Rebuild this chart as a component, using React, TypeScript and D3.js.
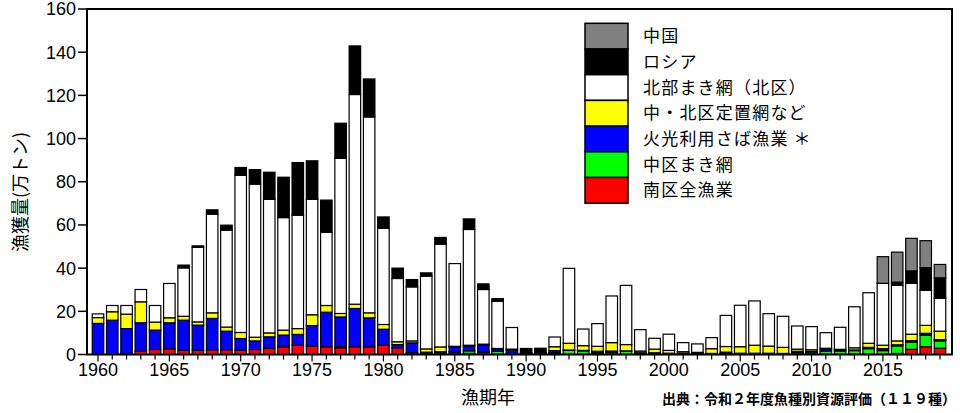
import React from 'react';
import * as d3 from 'd3';

// 漁期年 1960-2019
const years = d3.range(1960, 2020);

// 万トン, one value per year
const nanku = [0.3, 0.3, 0.5, 1.5, 2.3, 2.6, 2.0, 2.0, 2.2, 2.2, 2.0, 2.3, 2.8, 3.5, 4.3, 3.9, 3.5, 3.1, 3.5, 3.5, 4.3, 3.1, 0.8, 0.8, 0.8, 0.3, 0.5, 1.0, 0.3, 0.2, 0.3, 0.3, 0.4, 0.3, 0.3, 0.5, 1.0, 0.2, 0.3, 0.3, 0.2, 0.2, 0.2, 0.2, 0.3, 0.2, 0.2, 0.2, 0.2, 0.3, 0.3, 0.3, 0.3, 0.3, 0.3, 0.3, 0.5, 2.4, 3.6, 2.9];
const chukuMaki = [0, 0, 0, 0, 0, 0, 0, 0, 0, 0, 0, 0, 0, 0, 0, 0, 0, 0.5, 0, 0, 0, 0, 0, 0, 0, 0.8, 1.2, 0.3, 1.2, 0.3, 0.3, 0.3, 0.4, 1.6, 1.4, 0.5, 0.3, 1.4, 0.3, 0.3, 0.2, 0.2, 0.2, 0.2, 0.3, 0.2, 0.2, 0.2, 0.2, 0.7, 0.8, 1.3, 1.3, 1.5, 2.4, 1.5, 3.5, 3.4, 5.4, 3.4];
const kakou = [14.1, 15.6, 11.5, 13.2, 9.0, 12.1, 13.9, 11.6, 14.5, 8.6, 5.4, 4.0, 5.4, 5.5, 5.0, 9.5, 16.1, 13.8, 17.8, 13.5, 7.4, 1.5, 4.6, 0.3, 0.5, 2.4, 2.3, 3.0, 1.0, 1.5, 0.2, 0.2, 1.0, 0.2, 0.2, 0.5, 0.3, 0.1, 0.2, 0.2, 0.2, 0.2, 0.1, 0.1, 0.5, 0.2, 0.2, 0.2, 0.1, 0.5, 0.3, 0.8, 0.5, 0.3, 0.6, 0.9, 0.5, 0.6, 0.8, 0.6];
const teichi = [2.7, 3.9, 6.7, 9.7, 3.7, 2.3, 1.8, 1.5, 2.6, 1.9, 2.8, 1.7, 1.8, 2.3, 2.7, 5.0, 3.1, 1.6, 2.0, 2.3, 2.2, 1.3, 0.9, 1.5, 2.2, 0.3, 0.3, 0.5, 0.3, 0.5, 0, 0, 1.8, 3.1, 2.2, 2.3, 3.9, 2.9, 0.8, 1.7, 1.3, 0.7, 0.5, 2.2, 2.6, 3.0, 3.7, 3.3, 2.8, 1.0, 0.8, 0.5, 0.3, 1.0, 1.9, 1.6, 1.8, 3.0, 3.7, 3.9];
const hokubu = [1.7, 2.9, 4.0, 5.7, 7.7, 15.9, 22.4, 34.6, 45.7, 44.9, 72.8, 70.9, 61.9, 52.1, 52.5, 53.5, 33.9, 71.9, 97.1, 90.7, 44.6, 29.3, 25.0, 33.7, 47.6, 38.3, 53.6, 25.3, 21.9, 10.0, 0, 0, 4.5, 34.7, 7.7, 10.5, 21.6, 27.4, 9.9, 5.0, 7.5, 4.2, 3.9, 5.1, 14.4, 19.2, 20.5, 15.0, 14.4, 10.7, 10.7, 7.2, 10.2, 19.0, 23.4, 28.7, 25.7, 23.6, 16.2, 15.3];
const russia = [0, 0, 0, 0, 0, 0, 1.3, 0.6, 2.0, 2.3, 3.6, 6.7, 12.5, 18.7, 24.4, 17.8, 14.9, 16.2, 22.5, 17.6, 5.2, 4.8, 3.4, 1.5, 3.1, 0, 4.9, 2.6, 1.2, 0, 2.0, 2.1, 0, 0, 0, 0, 0, 0, 0, 0, 0, 0, 0, 0, 0, 0, 0, 0, 0, 0, 0, 0, 0, 0, 0, 0, 1.5, 5.7, 10.5, 9.4];
const china = [0, 0, 0, 0, 0, 0, 0, 0, 0, 0, 0, 0, 0, 0, 0, 0, 0, 0, 0, 0, 0, 0, 0, 0, 0, 0, 0, 0, 0, 0, 0, 0, 0, 0, 0, 0, 0, 0, 0, 0, 0, 0, 0, 0, 0, 0, 0, 0, 0, 0, 0, 0, 0, 0, 0, 12.3, 13.9, 15.1, 12.5, 6.2];

const seriesNames = ['南区全漁業', '中区まき網', '火光利用さば漁業 ＊', '中・北区定置網など', '北部まき網（北区）', 'ロシア', '中国'];
const seriesColors = ['#ff0000', '#00ff00', '#0000ff', '#ffff00', '#ffffff', '#000000', '#808080'];
const seriesValues = [nanku, chukuMaki, kakou, teichi, hokubu, russia, china];

const yTicks = [0, 20, 40, 60, 80, 100, 120, 140, 160];
const xLabels = [1960, 1965, 1970, 1975, 1980, 1985, 1990, 1995, 2000, 2005, 2010, 2015];

const W = 960, H = 413;
const left = 87, right = 952, top = 9, bottom = 354.5;
const numFont = '"Liberation Sans", Arial, sans-serif';
const jpFont = '"Noto Sans CJK JP", sans-serif';

const App = () => {
    const rows = years.map((yr, i) => {
        const r: any = { year: yr };
        seriesNames.forEach((k, j) => { r[k] = seriesValues[j][i]; });
        return r;
    });
    const stacked = d3.stack().keys(seriesNames)(rows);

    const x = d3.scaleLinear().domain([1960, 2019]).range([98, 940]);
    const y = d3.scaleLinear().domain([0, 160]).range([bottom, top]);
    const bw = 11.5;

    // legend order top to bottom is the reverse of stacking
    const legend = seriesNames.map((n, i) => ({ n, c: seriesColors[i] })).reverse();

    return (
        <svg width={W} height={H} style={{ position: 'absolute', left: 0, top: 0, background: '#fff' }}>
            {stacked.map((s, j) => (
                <g key={s.key} fill={seriesColors[j]} stroke="#000" strokeWidth={1.2}>
                    {s.filter(d => d[1] - d[0] > 0).map((d, i) => (
                        <rect key={i} x={x(d.data.year) - bw / 2} y={y(d[1])} width={bw} height={y(d[0]) - y(d[1])} />
                    ))}
                </g>
            ))}

            {/* frame */}
            <rect x={left} y={top} width={right - left} height={bottom - top} fill="none" stroke="#000" strokeWidth={2} />

            {/* y axis */}
            {yTicks.map(t => (
                <g key={t}>
                    <line x1={left - 9} x2={left} y1={y(t)} y2={y(t)} stroke="#000" strokeWidth={1.5} />
                    <text x={left - 11} y={y(t)} dy="0.36em" textAnchor="end" fontSize={18} fontFamily={numFont}>{t}</text>
                </g>
            ))}

            {/* x axis */}
            {years.map(yr => (
                <line key={yr} x1={x(yr)} x2={x(yr)} y1={bottom} y2={bottom + (yr % 5 === 0 ? 7 : 5)} stroke="#000" strokeWidth={1.2} />
            ))}
            {xLabels.map(yr => (
                <text key={yr} x={x(yr)} y={376} textAnchor="middle" fontSize={18} fontFamily={numFont}>{yr}</text>
            ))}

            <text x={488} y={404} textAnchor="middle" fontSize={18} fontFamily={jpFont}>漁期年</text>
            <text transform="translate(27,192) rotate(-90)" textAnchor="middle" fontSize={18} fontFamily={jpFont}>漁獲量(万トン)</text>
            <text x={956} y={404} textAnchor="end" fontSize={14} fontWeight="bold" fontFamily={jpFont}>出典：令和２年度魚種別資源評価（１１９種）</text>

            {/* legend */}
            {legend.map((l, i) => (
                <g key={l.n} transform={`translate(585,${23.3 + i * 25.7})`}>
                    <rect width={43} height={25.7} fill={l.c} stroke="#000" strokeWidth={1.5} />
                    <text x={58} y={12.85} dy="0.36em" fontSize={17} letterSpacing={1.2} fontFamily={jpFont}>{l.n}</text>
                </g>
            ))}
        </svg>
    );
};

export default App;
